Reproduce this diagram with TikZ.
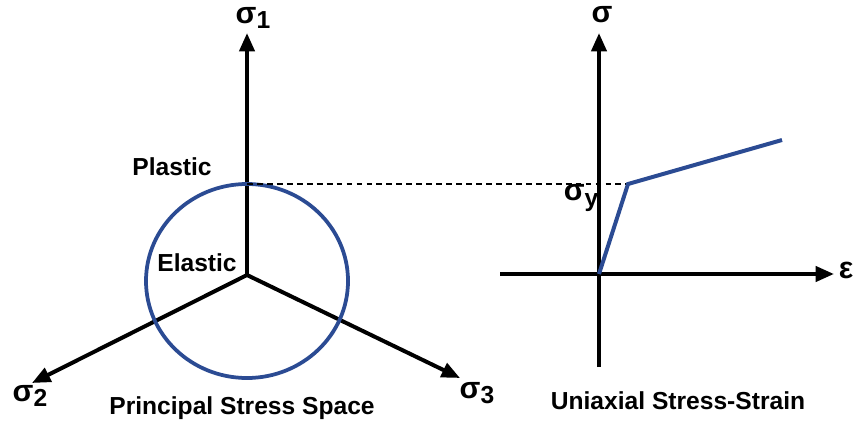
\documentclass[tikz,border=0pt]{standalone}
\usepackage{fontspec}
\setmainfont{Liberation Sans}
\usepackage{tikz}
\usetikzlibrary{arrows.meta, positioning}
\definecolor{CurveBlue}{HTML}{2B4B93}
\newcommand{\lowidx}[1]{\raisebox{-0.35ex}{\fontsize{21}{21}\selectfont #1}}

\begin{document}
\begin{tikzpicture}[x=0.03cm, y=-0.03cm, font=\bfseries\fontsize{21}{24}\selectfont,
    axis/.style={line width=3.4pt, -{Triangle[length=5.5mm, width=4.5mm]}},
    greek/.style={font=\bfseries\fontsize{26}{28}\selectfont, inner sep=0pt}]
        \useasboundingbox (0,0) rectangle (853,427);

        % Principal stress space
        \coordinate (O) at (247,275);
        \coordinate (S1) at (247,33);
        \coordinate (S2) at (32,383);
        \coordinate (S3) at (460,378);
        \coordinate (Top) at (247,184);
        \draw[axis] (O) -- (S1);
        \draw[axis] (O) -- (S2);
        \draw[axis] (O) -- (S3);
        \draw[CurveBlue, line width=3.2pt] (247,281) ellipse [x radius=101, y radius=97];

        \node[greek] (s1) at (253,18) {σ\lowidx{1}};
        \node[greek] (s2) at (30,396) {σ\lowidx{2}};
        \node[greek] (s3) at (477,393) {σ\lowidx{3}};
        \node (plastic) at (172,167) {Plastic};
        \node (elastic) at (197,263) {Elastic};
        \node (pss) at (242,408) {Principal Stress Space};

        % Uniaxial stress-strain
        \coordinate (E0) at (599,274);
        \coordinate (Up) at (599,33);
        \coordinate (Down) at (599,367);
        \coordinate (Left) at (500,274);
        \coordinate (Right) at (834,274);
        \coordinate (Y) at (628,184);
        \coordinate (H) at (782,140);
        \draw[axis] (Down) -- (Up);
        \draw[axis] (Left) -- (Right);
        \draw[line width=1.4pt, dash pattern=on 5pt off 3.5pt] (Top) -- (Y);
        \draw[CurveBlue, line width=3.4pt, line join=miter] (E0) -- (Y) -- (H);

        \node[greek] (sig) at (602,15) {σ};
        \node[greek] (eps) at (846,270) {ε};
        \node[greek] (sy) at (581,198) {σ\lowidx{y}};
        \node (uss) at (678,401) {Uniaxial Stress-Strain};
\end{tikzpicture}
\end{document}
